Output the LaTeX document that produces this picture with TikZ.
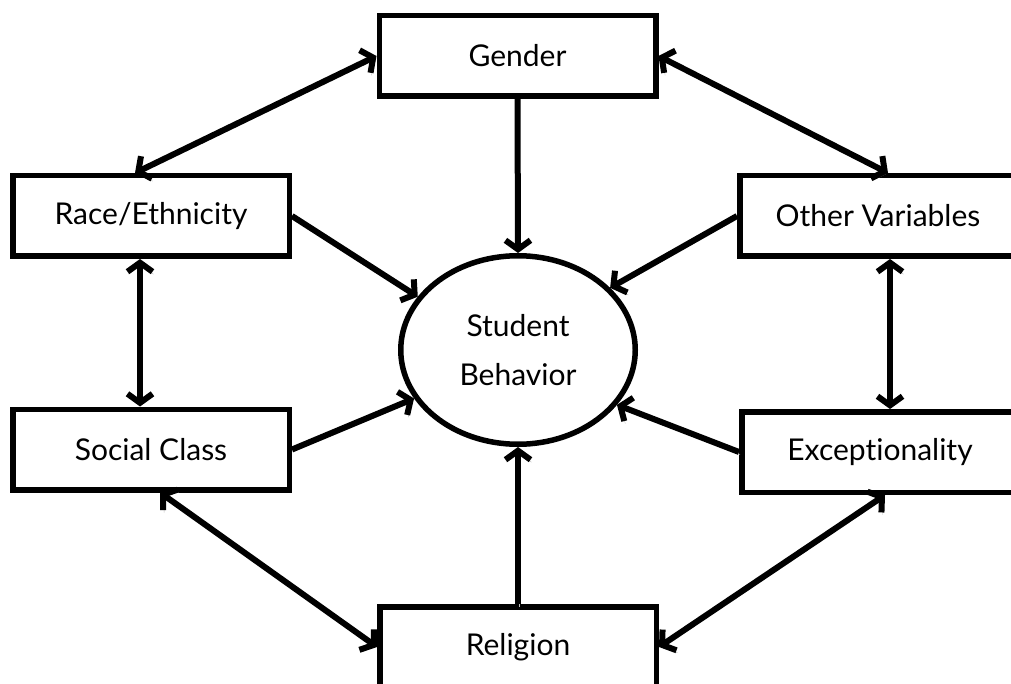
\documentclass[tikz,border=0pt]{standalone}
\usepackage{fontspec}
\setmainfont{Lato}[Ligatures=NoCommon]
\usetikzlibrary{arrows.meta,shapes.geometric,calc}
\begin{document}
\begin{tikzpicture}[x=1pt,y=-1pt,
  lbl/.style={font=\fontsize{30}{49}\selectfont, align=center},
  box/.style={lbl, draw, line width=5.5pt, rectangle, minimum width=276.5pt, minimum height=80.5pt, inner sep=0pt},
  oval/.style={lbl, draw, line width=5.5pt, ellipse, minimum width=234.5pt, minimum height=188.5pt, inner sep=0pt},
  conn/.style={line width=6pt, preaction={draw=gray!50, transform canvas={shift={(1,2.5)}}}},
  tip/.tip={Straight Barb[length=9pt,width=25pt]},
  both/.style={conn, tip-tip},
  one/.style={conn, -tip}
]
\useasboundingbox (0,0) rectangle (1011,684);
\clip (0,0) rectangle (1011,684);
\fill[white] (0,0) rectangle (1011,684);

\node[box] (gender)   at (517.5,56)  {Gender};
\node[box] (race)     at (151,216)   {Race/Ethnicity};
\node[box] (other)    at (878,216)   {Other Variables};
\node[box] (social)   at (151,449.5) {Social Class};
\node[box] (exc)      at (880,452)   {Exceptionality};
\node[box] (religion) at (518,647)   {Religion};
\node[oval] (sb)      at (518,350)   {Student\\Behavior};

\coordinate (rs) at ($(race.south)+(-11,0)$);
\coordinate (ov) at ($(other.south)+(12,0)$);

\draw[both] (gender.west) -- ($(race.north)+(-16,0)$);
\draw[both] (gender.east) -- ($(other.north)+(10,0)$);
\draw[one] (gender.south) -- (sb.north);
\draw[one] (race.east) -- (sb.152);
\draw[one] (other.west) -- (sb.34);
\draw[one] (social.east) -- (sb.205);
\draw[one] (exc.west) -- (sb.331);
\draw[one] (religion.north) -- (sb.south);
\draw[both] (rs) -- (rs |- social.north);
\draw[both] (ov) -- (ov |- exc.north);
\draw[both] ($(social.south)+(9,0)$) -- (religion.west);
\draw[both] ($(exc.south)+(5,0)$) -- (religion.east);
\end{tikzpicture}
\end{document}
